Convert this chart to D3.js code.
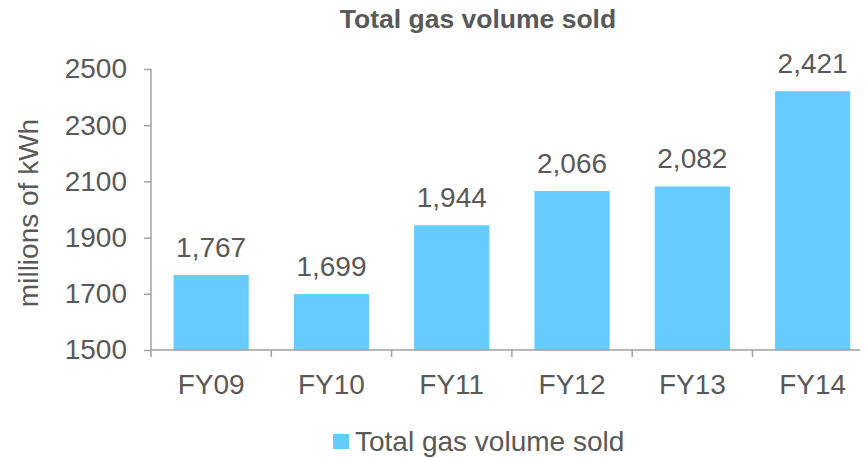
<!DOCTYPE html>
<html>
  <head>
    <title>Total gas volume sold</title>
    <script src="https://cdn.jsdelivr.net/npm/d3@7"></script>
    <style>
      body { margin: 0; background: #fff; }
      text { font-family: "Liberation Sans", Arial, sans-serif; fill: #595959; }
    </style>
  </head>
  <body>
    <svg width="867" height="458" id="mainsvg"></svg>
    <script>
      const years = ['FY09', 'FY10', 'FY11', 'FY12', 'FY13', 'FY14'];
      const volumes = [1767, 1699, 1944, 2066, 2082, 2421];
      const yTicks = [1500, 1700, 1900, 2100, 2300, 2500];

      const svg = d3.select('#mainsvg');
      const margin = {top: 69, left: 151, bottom: 108};
      const bandW = 120.3;
      const innerWidth = bandW * years.length;
      const innerHeight = 458 - margin.top - margin.bottom;
      const axisColor = '#a0a0a0';

      const xScale = d3.scaleBand().domain(years).range([0, innerWidth])
        .paddingInner(0.375).paddingOuter(0.1875);
      const yScale = d3.scaleLinear().domain([1500, 2500]).range([innerHeight, 0]);

      const g = svg.append('g').attr('transform', `translate(${margin.left}, ${margin.top})`);

      // bars
      g.selectAll('.bar').data(volumes).enter().append('rect')
        .attr('class', 'bar')
        .attr('x', (d, i) => xScale(years[i]))
        .attr('y', d => yScale(d))
        .attr('width', xScale.bandwidth())
        .attr('height', d => innerHeight - yScale(d))
        .attr('fill', '#66CCFF');

      // value labels
      g.selectAll('.lbl').data(volumes).enter().append('text')
        .attr('x', (d, i) => xScale(years[i]) + xScale.bandwidth() / 2)
        .attr('y', d => yScale(d) - 18)
        .attr('text-anchor', 'middle')
        .attr('font-size', 28)
        .text(d => d3.format(',')(d));

      // y axis
      const yAxis = d3.axisLeft(yScale).tickValues(yTicks).tickSize(7).tickPadding(17)
        .tickFormat(d3.format('d'));
      const yG = g.append('g').call(yAxis);
      yG.selectAll('text').attr('font-size', 28).style('fill', '#595959');
      yG.selectAll('line, path').attr('stroke', axisColor).attr('stroke-width', 1.5);
      yG.select('path').attr('d', `M0,0V${innerHeight}`);

      // x axis with ticks at category boundaries
      const xG = g.append('g').attr('transform', `translate(0, ${innerHeight})`);
      xG.append('line').attr('x1', 0).attr('x2', 709)
        .attr('stroke', axisColor).attr('stroke-width', 1.5);
      xG.selectAll('.tk').data(d3.range(years.length)).enter().append('line')
        .attr('x1', i => i * bandW).attr('x2', i => i * bandW)
        .attr('y1', 0).attr('y2', 7)
        .attr('stroke', axisColor).attr('stroke-width', 1.5);
      xG.selectAll('.xl').data(years).enter().append('text')
        .attr('x', d => xScale(d) + xScale.bandwidth() / 2)
        .attr('y', 44)
        .attr('text-anchor', 'middle')
        .attr('font-size', 28)
        .text(d => d);

      // titles
      svg.append('text').attr('x', 478).attr('y', 28)
        .attr('text-anchor', 'middle').attr('font-size', 26.5).attr('font-weight', 'bold')
        .text('Total gas volume sold');
      svg.append('text')
        .attr('transform', 'translate(38, 213) rotate(-90)')
        .attr('text-anchor', 'middle').attr('font-size', 28)
        .text('millions of kWh');

      // legend
      const lg = svg.append('g').attr('transform', 'translate(333, 434)');
      lg.append('rect').attr('width', 16).attr('height', 15).attr('fill', '#66CCFF');
      lg.append('text').attr('x', 22).attr('y', 17).attr('font-size', 28)
        .text('Total gas volume sold');
    </script>
  </body>
</html>
